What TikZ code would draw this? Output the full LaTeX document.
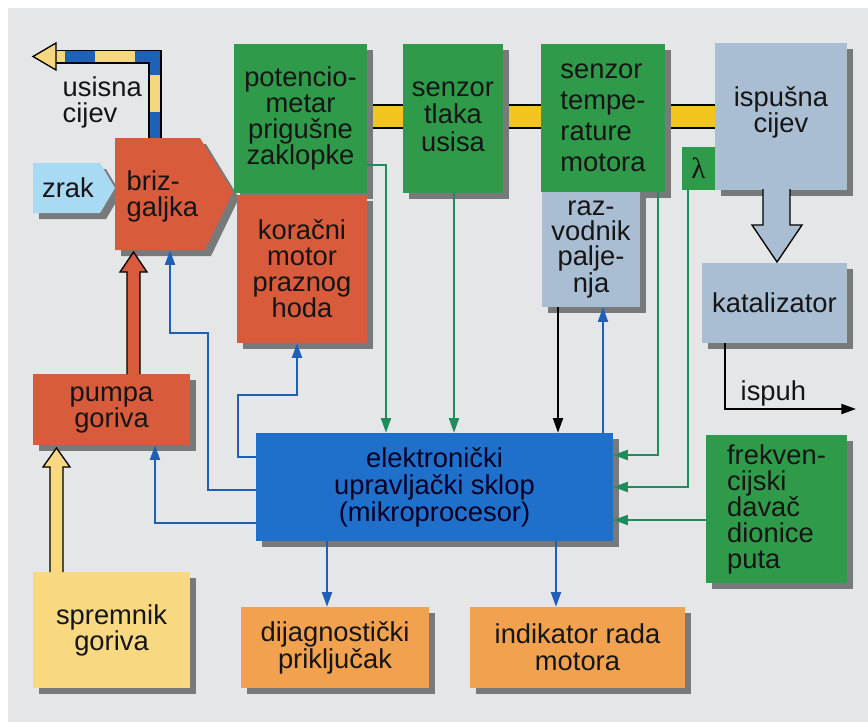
\documentclass[tikz,border=0pt]{standalone}
\usepackage{fontspec}
\setmainfont{Liberation Sans}
\newfontfamily\grkfont{Liberation Serif}
\usetikzlibrary{arrows.meta,fit}
\pgfdeclarelayer{back}
\pgfdeclarelayer{shadowlayer}
\pgfsetlayers{back,shadowlayer,main}
\definecolor{bg}{HTML}{E4E6E8}
\definecolor{grn}{HTML}{2F9A4A}
\definecolor{grnline}{HTML}{1E8C5C}
\definecolor{red1}{HTML}{D85B3B}
\definecolor{gblue}{HTML}{AABED3}
\definecolor{ecublue}{HTML}{1F70CA}
\definecolor{blline}{HTML}{1F5FB5}
\definecolor{orng}{HTML}{F2A24E}
\definecolor{syel}{HTML}{F8D880}
\definecolor{pipebar}{HTML}{F2C41E}
\definecolor{zrakc}{HTML}{A8DAF4}
\definecolor{pipeyel}{HTML}{F5D77E}
\definecolor{pipeblue}{HTML}{1E62B8}
\definecolor{txt}{HTML}{151515}
\definecolor{shadowc}{HTML}{77797B}
\newcommand\shd[1]{\begin{pgfonlayer}{shadowlayer}\fill[shadowc] ([shift={(4.5pt,-4.5pt)}]#1.south west) rectangle ([shift={(4.5pt,-4.5pt)}]#1.north east);\end{pgfonlayer}}
\begin{document}
\begin{tikzpicture}[x=0.75pt,y=-0.75pt,
  font=\fontsize{20.5}{19.5}\selectfont, text=txt,
  box/.style={inner sep=0pt, align=center},
  sz/.style 2 args={minimum width=#1*0.75pt, minimum height=#2*0.75pt},
  gbox/.style={box, fill=grn},
  rbox/.style={box, fill=red1},
  bbox/.style={box, fill=gblue},
  obox/.style={box, fill=orng},
  tip/.style={-{Triangle[length=11pt,width=7.5pt]}},
  gl/.style={draw=grnline, line width=1.5pt, tip},
  bl/.style={draw=blline, line width=1.5pt, tip},
  kl/.style={draw=black, line width=1.5pt, tip},
  hollow/.style={draw=black, line width=1pt, line join=miter}
]
\useasboundingbox (0,0) rectangle (868,722);
\begin{pgfonlayer}{back}
\fill[bg] (8,8) rectangle (868,722);
% yellow bar behind the sensor boxes
\fill[pipebar] (367,105) rectangle (715,128);
\draw[black, line width=1pt] (367,105) -- (715,105) (367,128) -- (715,128);
\end{pgfonlayer}

% intake pipe (usisna cijev)
\draw[black, line width=10.5pt, line join=miter] (155,138) -- (155,56.5) -- (55,56.5);
\draw[pipeyel, line width=8pt, line join=miter] (155,138) -- (155,56.5) -- (55,56.5);
\draw[pipeblue, line width=8pt, line join=miter,
  dash pattern=on 19.5pt off 27.75pt on 29.25pt off 30pt on 22.5pt off 75pt]
  (155,138) -- (155,56.5) -- (55,56.5);
\filldraw[fill=pipeyel, hollow] (56,43) -- (33,56.5) -- (56,70) -- cycle;
\node[align=left, anchor=north west] (usis) at (58,72) {usisna\\cijev};

% zrak
\fill[shadowc] (39,169) -- (106,169) -- (121,194) -- (106,219) -- (39,219) -- cycle;
\fill[zrakc] (33,163) -- (100,163) -- (115,188) -- (100,213) -- (33,213) -- cycle;
\node (zrak) at (68,188) {zrak};

% brizgaljka
\fill[shadowc] (121,144) -- (206,144) -- (239,198) -- (211,256) -- (121,256) -- cycle;
\fill[red1] (115,138) -- (200,138) -- (233,192) -- (205,250) -- (115,250) -- cycle;
\node[fit={(115,138) (233,250)}, inner sep=0pt] (briz) {};
\node[align=left, anchor=west, font=\fontsize{20.5}{19.5}\selectfont] (briztxt) at (122,196) {briz-\\galjka};

% green sensors
\node[gbox, sz={133}{149}] (pot) at (300.5,118.5) {potencio-\\metar\\prigušne\\zaklopke};\shd{pot}
\node[gbox, sz={100}{149}] (tlak) at (453,118.5) {\raisebox{3pt}{\begin{tabular}{@{}c@{}}senzor\\tlaka\\usisa\end{tabular}}};\shd{tlak}
\node[gbox, sz={124}{148}, align=left, font=\fontsize{20.5}{23.25}\selectfont] (temp) at (603,118) {senzor\\tempe-\\rature\\motora};\shd{temp}
\node[bbox, sz={132}{147}] (isp) at (781,116.5) {};\shd{isp}
\node[align=center] (isptxt) at (781,112) {ispušna\\cijev};
\node[gbox, sz={33}{43}, font=\grkfont\fontsize{22}{22}\selectfont] (lam) at (698.5,168.5) {λ};
\node[bbox, sz={98}{115}, font=\fontsize{20.5}{18.5}\selectfont] (razv) at (591,249.5) {raz-\\vodnik\\palje-\\nja};\shd{razv}
\node[rbox, sz={130}{148}] (kor) at (302,269) {koračni\\motor\\praznog\\hoda};\shd{kor}

% exhaust hollow arrow
\filldraw[fill=gblue, hollow] (763,189) -- (763,225) -- (752,225) -- (777,262) -- (802,225) -- (790,225) -- (790,189);
\node[bbox, sz={145}{80}] (kat) at (774.5,303) {katalizator};\shd{kat}

% fuel path
\node[rbox, sz={157}{71}] (pumpa) at (111.5,409.5) {pumpa\\goriva};\shd{pumpa}
\node[box, fill=syel, sz={157}{116}] (sprem) at (111.5,630) {spremnik\\goriva};\shd{sprem}
\filldraw[fill=red1, hollow] (127,374) -- (127,272) -- (120,272) -- (133.5,252) -- (147,272) -- (140,272) -- (140,374);
\filldraw[fill=syel, hollow] (50,572) -- (50,467) -- (43,467) -- (56.5,448) -- (70,467) -- (63,467) -- (63,572);

% ECU and outputs
\node[box, fill=ecublue, sz={357}{108}, text=black!85!blue, font=\fontsize{20.5}{20.25}\selectfont] (ecu) at (434.5,487) {elektronički\\upravljački sklop\\(mikroprocesor)};\shd{ecu}
\node[obox, sz={188}{81}, font=\fontsize{20.5}{20.25}\selectfont] (dij) at (335,647.5) {dijagnostički\\priključak};\shd{dij}
\node[obox, sz={215}{81}, font=\fontsize{20.5}{20.25}\selectfont] (ind) at (577.5,647.5) {indikator rada\\motora};\shd{ind}
\node[gbox, sz={141}{148}, align=left] (frek) at (776.5,509) {frekven-\\cijski\\davač\\dionice\\puta};\shd{frek}

% exhaust out
\coordinate (ispend) at (856,409);
\draw[kl] (kat.south -| 725,0) |- (ispend);
\node[anchor=base west] (ispuh) at (736,400) {ispuh};

% blue outputs of the ECU
\draw[bl] (ecu.west |- 0,490) -| (208,333) -| (briz.south -| 170,0);
\draw[bl] (ecu.west |- 0,457) -| (238,395) -| (kor.south -| 297,0);
\draw[bl] (ecu.west |- 0,523) -| (pumpa.south -| 155,0);
\draw[bl] (ecu.south -| 327,0) -- (dij.north -| 327,0);
\draw[bl] (ecu.south -| 556,0) -- (ind.north -| 556,0);
\draw[bl] (ecu.north -| 603,0) -- (razv.south -| 603,0);
\draw[kl] (razv.south -| 558,0) -- (ecu.north -| 558,0);

% green inputs of the ECU
\draw[gl] (pot.east |- 0,165) -| (ecu.north -| 386,0);
\draw[gl] (tlak.south -| 454,0) -- (ecu.north -| 454,0);
\draw[gl] (temp.south -| 658,0) |- (ecu.east |- 0,455);
\draw[gl] (lam.south -| 688,0) |- (ecu.east |- 0,487);
\draw[gl] (frek.west |- 0,520) -- (ecu.east |- 0,520);
\end{tikzpicture}
\end{document}
